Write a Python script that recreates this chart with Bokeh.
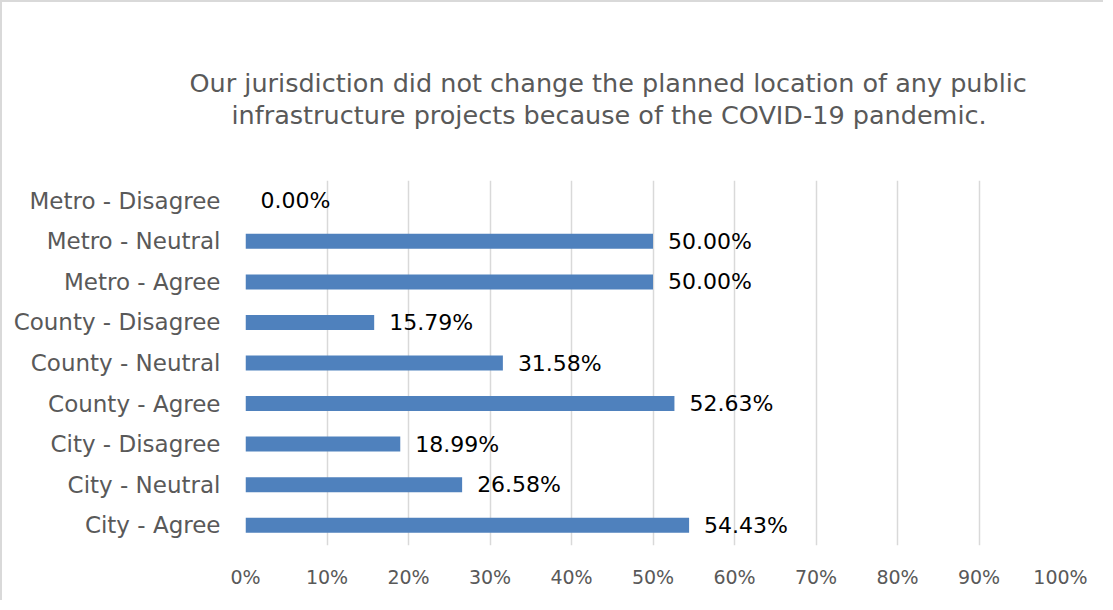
from bokeh.plotting import figure
from bokeh.models import (ColumnDataSource, FactorRange, Range1d, FixedTicker,
                          NumeralTickFormatter, LabelSet, Title)
from bokeh.core.properties import value
from bokeh.embed import file_html
from bokeh.resources import INLINE

categories = ["City - Agree", "City - Neutral", "City - Disagree",
              "County - Agree", "County - Neutral", "County - Disagree",
              "Metro - Agree", "Metro - Neutral", "Metro - Disagree"]
values = [54.43, 26.58, 18.99, 52.63, 31.58, 15.79, 50.00, 50.00, 0.00]
x_ticks = [0, 10, 20, 30, 40, 50, 60, 70, 80, 90, 100]
title_lines = ["Our jurisdiction did not change the planned location of any public",
               "infrastructure projects because of the COVID-19 pandemic."]

FONT = "DejaVu Sans"
GRAY = "#595959"

src = ColumnDataSource(dict(
    cat=categories,
    val=[v / 100 for v in values],
    lab=["%.2f%%" % v for v in values],
))

p = figure(width=1103, height=600, output_backend="svg", toolbar_location=None,
           y_range=FactorRange(factors=categories), x_range=Range1d(0, 1),
           min_border_left=243, min_border_right=45, min_border_top=178,
           min_border_bottom=57)
p.styles = {"border-top": "2px solid #d9d9d9", "border-left": "2px solid #d9d9d9"}
p.outline_line_color = None
p.background_fill_color = "white"
p.border_fill_color = "white"

p.hbar(y="cat", right="val", left=0, height=0.37, source=src,
       fill_color="#4F81BD", line_color=None)

labels = LabelSet(x="val", y="cat", text="lab", source=src, x_offset=15,
                  text_align="left", text_baseline="middle", text_color="#000000",
                  text_font=value(FONT), text_font_size=value("22px"))
p.add_layout(labels)

p.xaxis.ticker = FixedTicker(ticks=[t / 100 for t in x_ticks])
p.xaxis.formatter = NumeralTickFormatter(format="0%")
p.xaxis.axis_line_color = None
p.xaxis.major_tick_line_color = None
p.xaxis.minor_tick_line_color = None
p.xaxis.major_label_text_font = FONT
p.xaxis.major_label_text_font_size = "19px"
p.xaxis.major_label_text_color = GRAY
p.xaxis.major_label_standoff = 14

p.yaxis.axis_line_color = None
p.yaxis.major_tick_line_color = None
p.yaxis.major_label_text_font = FONT
p.yaxis.major_label_text_font_size = "23px"
p.yaxis.major_label_text_color = GRAY
p.yaxis.major_label_standoff = 19

p.xgrid.grid_line_color = "#d9d9d9"
p.xgrid.grid_line_width = 1.5
p.ygrid.grid_line_color = None

# spacer between the plot area and the two-line title
p.add_layout(Title(text=" ", standoff=19, text_font=FONT,
                   text_font_size="25.5px"), "above")
# title: second line is nearest to the frame, so it is added first
offsets = [-56, -14]
for i in (1, 0):
    p.add_layout(Title(text=title_lines[i], align="left", offset=offsets[i],
                       standoff=0, text_font=FONT,
                       text_font_size="25.5px", text_font_style="normal",
                       text_color=GRAY), "above")

open("out.html", "w").write(file_html(p, INLINE))
